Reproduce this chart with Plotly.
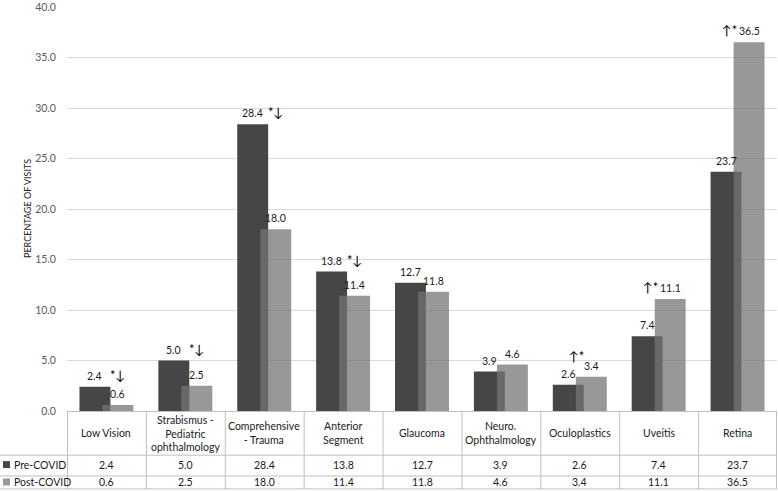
import plotly.graph_objects as go

categories = ["Low Vision", "Strabismus - Pediatric ophthalmology", "Comprehensive - Trauma",
              "Anterior Segment", "Glaucoma", "Neuro. Ophthalmology", "Oculoplastics",
              "Uveitis", "Retina"]
category_labels = ["Low Vision", "Strabismus -<br>Pediatric<br>ophthalmology", "Comprehensive<br>- Trauma",
                   "Anterior<br>Segment", "Glaucoma", "Neuro.<br>Ophthalmology", "Oculoplastics",
                   "Uveitis", "Retina"]
pre_covid = [2.4, 5.0, 28.4, 13.8, 12.7, 3.9, 2.6, 7.4, 23.7]
post_covid = [0.6, 2.5, 18.0, 11.4, 11.8, 4.6, 3.4, 11.1, 36.5]
pre_marks = ["*↓", "*↓", "*↓", "*↓", "", "", "", "", ""]
post_marks = ["", "", "", "", "", "", "↑*", "↑*", "↑*"]
series_names = ["Pre-COVID", "Post-COVID"]
y_ticks = [0, 5, 10, 15, 20, 25, 30, 35, 40]
y_title = "PERCENTAGE OF VISITS"

W, H = 778, 491
L, R, T, B = 67, 1, 4, 80
PW, PH = W - L - R, H - T - B
FONT = "Lato, 'Open Sans', sans-serif"
FS = 10.5
PRE_COLOR = "#464646"
POST_COLOR = "rgba(116,116,116,0.74)"
POST_SWATCH = "#999999"
LINE = "#bfbfbf"
TXT = "#1a1a1a"


def px_x(px):
    return (px - L) / PW


def px_y(py):
    return (H - B - py) / PH


BW = 0.392
fig = go.Figure()
fig.add_trace(go.Bar(x=categories, y=pre_covid, offset=-0.342, width=BW, name=series_names[0],
                     marker=dict(color=PRE_COLOR, line=dict(width=0)), hoverinfo="skip"))
fig.add_trace(go.Bar(x=categories, y=post_covid, offset=-0.05, width=BW, name=series_names[1],
                     marker=dict(color=POST_COLOR, line=dict(width=0)), hoverinfo="skip"))

ann = []
cell_w = PW / len(categories)
pre_shift = (-0.342 + BW / 2) * cell_w
post_shift = (-0.05 + BW / 2) * cell_w
MARK_FONT = dict(size=13, color="#000000", family=FONT)
for i, c in enumerate(categories):
    ann.append(dict(x=c, y=pre_covid[i], xref="x", yref="y", text=f"{pre_covid[i]:.1f}",
                    xanchor="center", yanchor="bottom", yshift=3, xshift=pre_shift, showarrow=False,
                    font=dict(size=FS, color=TXT, family=FONT)))
    ann.append(dict(x=c, y=post_covid[i], xref="x", yref="y", text=f"{post_covid[i]:.1f}",
                    xanchor="center", yanchor="bottom", yshift=3, xshift=post_shift, showarrow=False,
                    font=dict(size=FS, color=TXT, family=FONT)))
    if pre_marks[i]:
        ann.append(dict(x=c, y=pre_covid[i], xref="x", yref="y", text=pre_marks[i],
                        xanchor="left", yanchor="bottom", yshift=2, xshift=pre_shift + 13, showarrow=False,
                        font=MARK_FONT))
    if post_marks[i]:
        close = abs(post_covid[i] - pre_covid[i]) < 1.5
        ann.append(dict(x=c, y=post_covid[i], xref="x", yref="y", text=post_marks[i],
                        xanchor="right", yanchor="bottom", yshift=11 if close else 2,
                        xshift=post_shift - (5 if close else 10), showarrow=False,
                        font=MARK_FONT))
    # table cells
    ann.append(dict(x=c, y=px_y(433.5), xref="x", yref="paper", text=category_labels[i],
                    xanchor="center", yanchor="middle", showarrow=False,
                    font=dict(size=FS, color=TXT, family=FONT)))
    ann.append(dict(x=c, y=px_y(465), xref="x", yref="paper", text=f"{pre_covid[i]:.1f}",
                    xanchor="center", yanchor="middle", showarrow=False,
                    font=dict(size=FS, color=TXT, family=FONT)))
    ann.append(dict(x=c, y=px_y(482.5), xref="x", yref="paper", text=f"{post_covid[i]:.1f}",
                    xanchor="center", yanchor="middle", showarrow=False,
                    font=dict(size=FS, color=TXT, family=FONT)))

# row headers
for name, yy in zip(series_names, [465, 482.5]):
    ann.append(dict(x=px_x(12), y=px_y(yy), xref="paper", yref="paper", text=name,
                    xanchor="left", yanchor="middle", showarrow=False,
                    font=dict(size=FS, color=TXT, family=FONT)))

ann.append(dict(x=px_x(27), y=0.5, xref="paper", yref="paper", text=y_title, textangle=-90,
                xanchor="center", yanchor="middle", showarrow=False,
                font=dict(size=9, color=TXT, family=FONT)))

shapes = []
shapes.append(dict(type="line", xref="paper", yref="paper", x0=px_x(67), x1=px_x(777),
                   y0=px_y(411.5), y1=px_y(411.5), line=dict(color=LINE, width=1)))
for py in [455.5, 476.5, 489.5]:
    shapes.append(dict(type="line", xref="paper", yref="paper", x0=px_x(0), x1=px_x(777),
                       y0=px_y(py), y1=px_y(py), line=dict(color=LINE, width=1)))
for k in range(len(categories) + 1):
    xx = 67.5 + k * cell_w
    if k == len(categories):
        xx = 776.5
    shapes.append(dict(type="line", xref="paper", yref="paper", x0=px_x(xx), x1=px_x(xx),
                       y0=px_y(411.5), y1=px_y(489.5), line=dict(color=LINE, width=1)))
for col, yy in zip([PRE_COLOR, POST_SWATCH], [465, 482.5]):
    shapes.append(dict(type="rect", xref="paper", yref="paper", x0=px_x(3), x1=px_x(10),
                       y0=px_y(yy - 3.5), y1=px_y(yy + 3.5), fillcolor=col, line=dict(width=0)))

fig.update_layout(
    width=W, height=H,
    margin=dict(l=L, r=R, t=T, b=B, pad=0),
    paper_bgcolor="white", plot_bgcolor="white",
    barmode="overlay", showlegend=False,
    font=dict(family=FONT, size=FS, color=TXT),
    xaxis=dict(type="category", categoryorder="array", categoryarray=categories,
               range=[-0.5, len(categories) - 0.5], showticklabels=False, showgrid=False,
               zeroline=False, showline=False, ticks=""),
    yaxis=dict(range=[0, 40], tickvals=y_ticks, tickformat=".1f", showgrid=True,
               gridcolor="#d9d9d9", gridwidth=1, zeroline=False, showline=False,
               ticks="outside", ticklen=8, tickcolor="rgba(0,0,0,0)",
               ticklabeloverflow="allow",
               tickfont=dict(size=10.5, color="#595959", family=FONT)),
    annotations=ann, shapes=shapes,
)

fig.write_html("out.html", config={"displayModeBar": False},
               post_script="document.body.style.margin='0';document.body.style.overflow='hidden';")
